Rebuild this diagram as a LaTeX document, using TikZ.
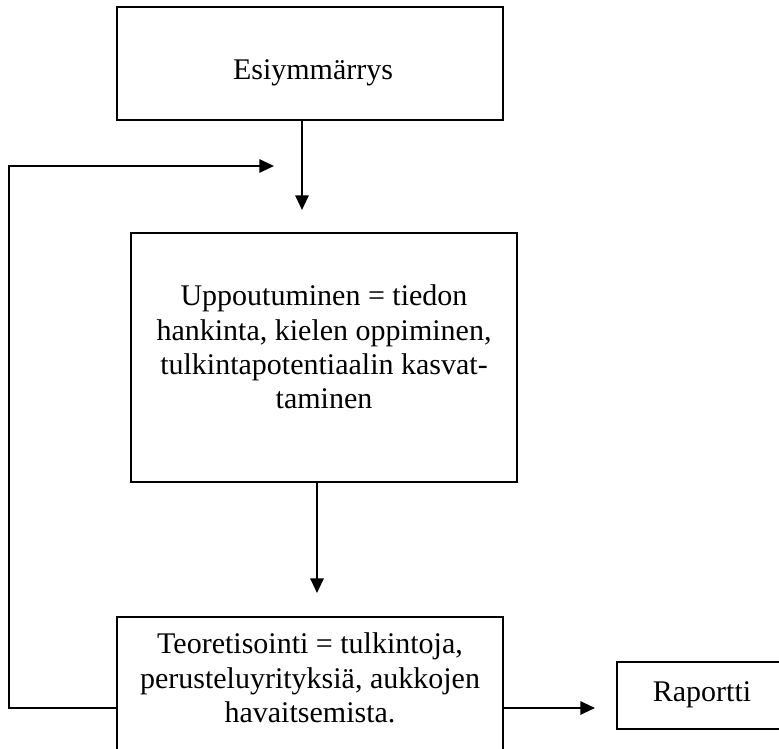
\documentclass[tikz,border=0pt]{standalone}
\usepackage{fontspec}
\setmainfont{Liberation Serif}
\usetikzlibrary{arrows.meta}
\begin{document}
\begin{tikzpicture}[x=0.75pt,y=-0.75pt,
  box/.style={draw, line width=1.5pt, inner sep=0pt},
  txt/.style={font=\fontsize{22.5}{25.7}\selectfont, align=center, inner sep=0pt},
  conn/.style={line width=1.5pt, -{Triangle[length=11pt,width=10pt]}}]
\useasboundingbox (0,0) rectangle (779,749);
% boxes
\node[box, minimum width=289.5pt, minimum height=84.75pt] (b1) at (310,63.5) {};
\node[box, minimum width=289.5pt, minimum height=186.75pt] (b2) at (324,357.5) {};
\node[box, minimum width=289.5pt, minimum height=137.25pt] (b3) at (310,708.5) {};
\node[box, minimum width=127.5pt, minimum height=50.25pt] (b4) at (702,695.5) {};
% texts
\node[txt, anchor=base] (t1) at (313,80) {Esiymmärrys};
\node[txt] (t2) at (324,347) {Uppoutuminen = tiedon\\hankinta, kielen oppiminen,\\tulkintapotentiaalin kasvat-\\taminen};
\node[txt] (t3) at (310,678) {Teoretisointi = tulkintoja,\\perusteluyrityksiä, aukkojen\\havaitsemista.};
\node[txt, anchor=base] (t4) at (702,701) {Raportti};
% connector ends
\coordinate (a1e) at (302,210);
\coordinate (a2e) at (317,593);
\coordinate (a3e) at (595,708);
\coordinate (lc1) at (9,708);
\coordinate (lc2) at (9,166);
\coordinate (a4e) at (274,166);
% connectors
\draw[conn] (b1.south -| a1e) -- (a1e);
\draw[conn] (b2.south -| a2e) -- (a2e);
\draw[conn] (b3.east |- a3e) -- (a3e);
\draw[conn] (b3.west |- lc1) -- (lc1) -- (lc2) -- (a4e);
\end{tikzpicture}
\end{document}
